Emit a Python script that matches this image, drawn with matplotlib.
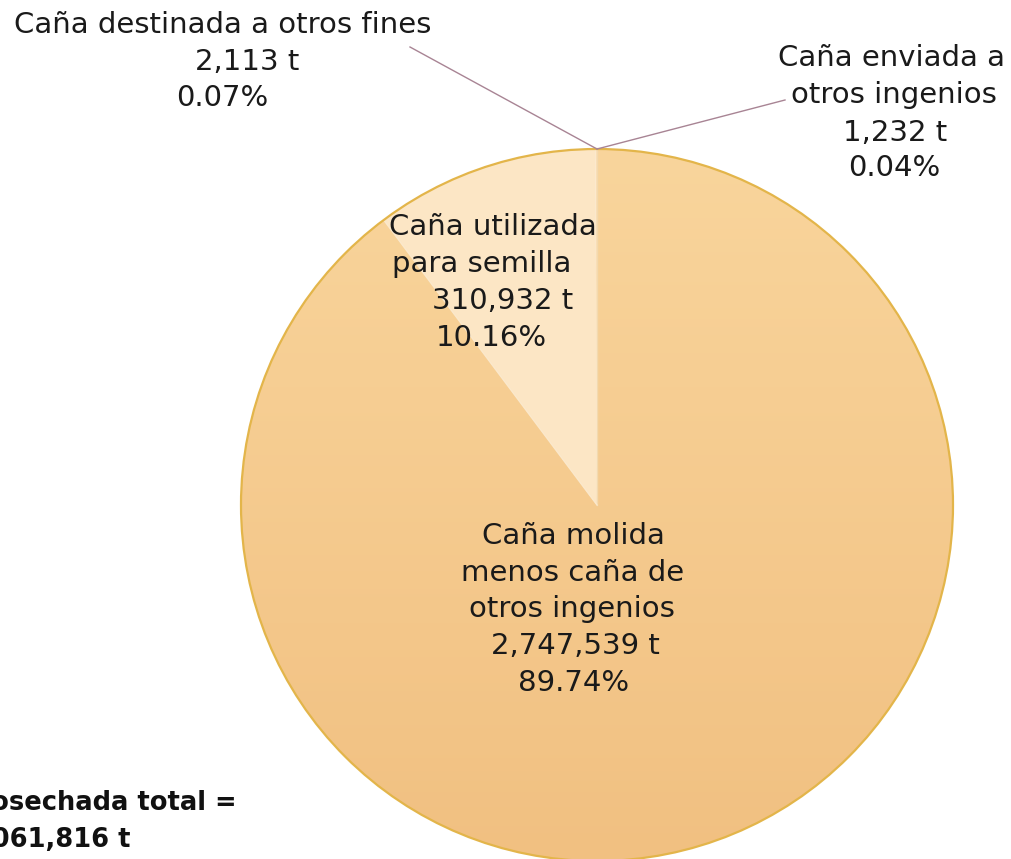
import numpy as np
import matplotlib
matplotlib.use("Agg")
import matplotlib.pyplot as plt
from matplotlib.colors import LinearSegmentedColormap

# data
categories = ["enviada", "molida", "semilla", "fines"]
values = [1232, 2747539, 310932, 2113]
total_text = ["Caña cosechada total =", "3,061,816 t"]

label_lines = {
    "enviada": ["Caña enviada a", "otros ingenios", "1,232 t", "0.04%"],
    "molida": ["Caña molida", "menos caña de", "otros ingenios", "2,747,539 t", "89.74%"],
    "semilla": ["Caña utilizada", "para semilla", "310,932 t", "10.16%"],
    "fines": ["Caña destinada a otros fines", "2,113 t", "0.07%"],
}

W, H = 1011, 859
fig = plt.figure(figsize=(W / 100, H / 100), dpi=100)
ax = fig.add_axes([0, 0, 1, 1])
plt.rcParams['font.family'] = ['DejaVu Sans']

def Y(py):
    return H - py

cx, cy, r = 597, Y(505), 356
colors = ["#F7CF92", "none", "#FCE6C5", "#FBE0B8"]
wedges, _ = ax.pie(values, startangle=90, counterclock=False, colors=colors,
                   center=(cx, cy), radius=r, frame=True,
                   wedgeprops=dict(edgecolor="none", linewidth=0))

# gradient fill for the big slice
cmap = LinearSegmentedColormap.from_list("g", ["#F1C081", "#F9D59C"])
grad = np.linspace(0, 1, 256).reshape(-1, 1)
im = ax.imshow(grad, extent=(cx - r, cx + r, cy - r, cy + r), origin="lower",
               cmap=cmap, aspect="auto", zorder=0.5)
im.set_clip_path(wedges[1])

# outline and the inner separating lines
circle = plt.Circle((cx, cy), r, fill=False, edgecolor="#E3B54A", linewidth=1.6, zorder=3)
ax.add_patch(circle)
ang = np.deg2rad(90 - 360 * (values[0] + values[1]) / sum(values))
ax.plot([cx, cx], [cy, cy + r], color="#F3D9AE", lw=1.0, zorder=2)
ax.plot([cx, cx + r * np.cos(ang)], [cy, cy + r * np.sin(ang)], color="#FBE8CB", lw=1.0, zorder=2)

# leader lines
ax.plot([410, 597], [Y(47), Y(149)], color="#A88494", lw=1.0, zorder=4)
ax.plot([597, 785], [Y(149), Y(100)], color="#A88494", lw=1.0, zorder=4)

fs = 21
def put(lines, xs, ys, **kw):
    for t, x, y in zip(lines, xs, ys):
        ax.text(x, Y(y), t, ha="center", va="center", fontsize=fs, color="#1a1a1a", **kw)

put(label_lines["fines"], [223, 247, 222], [25, 62, 98])
put(label_lines["enviada"], [891, 894, 895, 894], [58, 95, 133, 168])
put(label_lines["semilla"], [493, 482, 503, 491], [227, 264, 301, 338])
put(label_lines["molida"], [573, 573, 572, 575, 574], [536, 573, 609, 646, 683])

# total, partly outside the left edge as in the reference
ax.text(237, Y(803), total_text[0], ha="right", va="center", fontsize=18.5,
        fontweight="bold", color="#111111")
ax.text(130, Y(840), total_text[1], ha="right", va="center", fontsize=18.5,
        fontweight="bold", color="#111111")

ax.set_xlim(0, W)
ax.set_ylim(0, H)
ax.set_aspect("auto")
ax.axis("off")
fig.savefig("out.png", dpi=100)
